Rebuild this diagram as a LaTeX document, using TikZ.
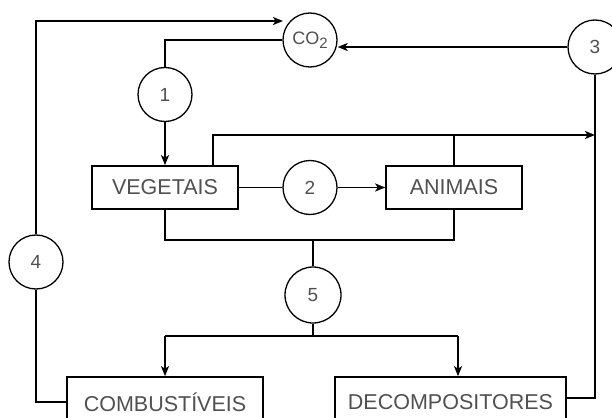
\documentclass[tikz,border=0pt]{standalone}
\usepackage{fontspec}
\setmainfont{Liberation Sans}
\usetikzlibrary{arrows.meta,calc}
\definecolor{txt}{HTML}{505050}
\tikzset{
  wire/.style={line width=1.7pt, line join=miter},
  flow/.style={wire, -{Stealth[length=10pt,width=8pt,inset=2.5pt]}},
  proc/.style={circle, draw, line width=1.3pt, minimum size=54pt, inner sep=0pt,
               text=txt, font=\fontsize{19}{19}\selectfont},
  pool/.style={rectangle, draw, line width=1.7pt, inner sep=0pt,
               minimum height=43pt, text=txt, font=\fontsize{21.5}{21.5}\selectfont},
}
\begin{document}
\begin{tikzpicture}[x=1pt, y=-1pt]
  \useasboundingbox (0,0) rectangle (612,417);
  \clip (0,0) rectangle (612,417);

  % carbon pools
  \node[pool, minimum width=146pt] (veg) at (165,187.5) {VEGETAIS};
  \node[pool, minimum width=136pt] (ani) at (454,187.5) {ANIMAIS};
  \node[pool, minimum width=196pt, minimum height=50pt] (comb) at (165,402) {COMBUST\'IVEIS};
  \node[pool, minimum width=231pt, minimum height=50pt] (dec) at (450.5,402) {DECOMPOSITORES};

  % atmospheric CO2 and numbered processes
  \node[proc, font=\fontsize{18}{18}\selectfont] (co2) at (310,40)
       {CO\raisebox{-4.5pt}{\fontsize{15}{15}\selectfont 2}};
  \node[proc] (p1) at (165,94.5) {1};
  \node[proc] (p2) at (310,187.5) {2};
  \node[proc] (p3) at (595,47) {3};
  \node[proc] (p4) at (36,262) {4};
  \node[proc, minimum size=56pt] (p5) at (313,295) {5};

  % helper points for the routed lines
  \coordinate (topline) at (213,135);
  \coordinate (co2in) at (283,21);
  \coordinate (bottomline) at (313,240);
  \coordinate (split) at (458,336);

  % 1: photosynthesis
  \draw[wire] (co2.west) -| (p1.north);
  \draw[flow] (p1.south) -- (veg.north);

  % 2: feeding
  \draw[wire] (veg.east) -- (p2.west);
  \draw[flow] (p2.east) -- (ani.west);

  % respiration towards 3
  \draw[flow] (veg.north -| topline) |- (p3.south |- topline);
  \draw[wire] (ani.north) -- (ani.north |- topline);
  \draw[flow] (p3.west) -- (p3.west -| co2.east);
  \draw[wire] (p3.south) |- ([yshift=4pt]dec.east);

  % 4: combustion
  \draw[wire] (comb.west) -| (p4.south);
  \draw[flow] (p4.north) |- (co2in);

  % 5: death and burial
  \draw[wire] (veg.south) |- (bottomline) -| (ani.south);
  \draw[wire] (bottomline) -- (p5.north);
  \draw[wire] (p5.south) -- (p5.south |- split);
  \draw[flow] (comb.north |- split) -| (comb.north);
  \draw[wire] (comb.north |- split) -- (split);
  \draw[flow] (split) -- (split |- dec.north);
\end{tikzpicture}
\end{document}
